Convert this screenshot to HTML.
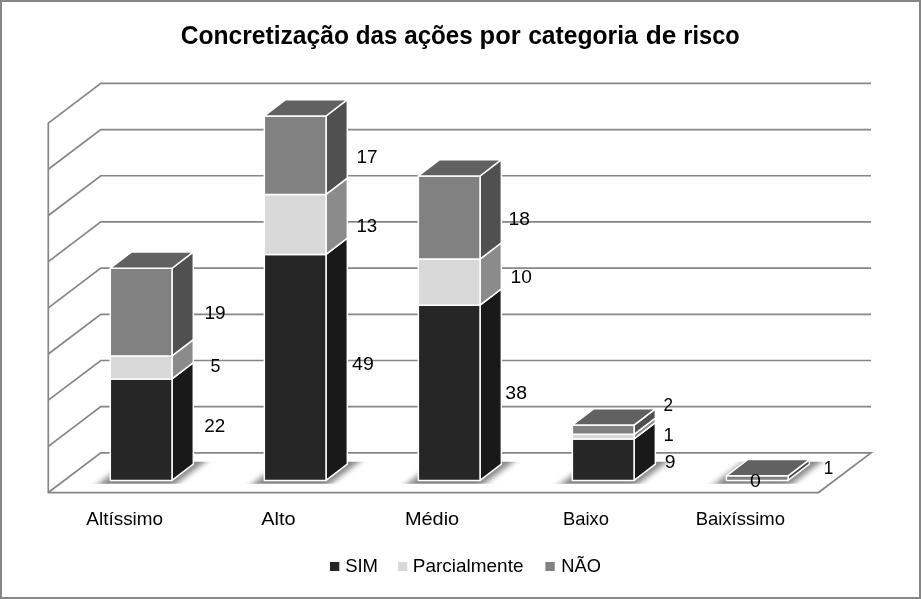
<!DOCTYPE html>
<html lang="pt">
<head>
<meta charset="utf-8">
<title>Concretização das ações por categoria de risco</title>
<style>
html,body{margin:0;padding:0;background:#fff;}
body{width:921px;height:599px;overflow:hidden;}
svg{display:block;}
text{font-family:"Liberation Sans",sans-serif;fill:#000;font-kerning:none;}
.t{font-weight:bold;font-size:25.4px;}
.l{font-size:17.8px;}
.d{font-size:18.3px;}
.g{stroke:#868686;stroke-width:1.7;fill:none;}
.b{stroke:#fff;stroke-width:1.5;stroke-linejoin:round;}
</style>
</head>
<body>
<svg width="921" height="599" viewBox="0 0 921 599">
<defs>
<filter id="sh" x="-30%" y="-60%" width="160%" height="220%"><feGaussianBlur stdDeviation="5 0.5"/></filter>
</defs>
<rect x="0" y="0" width="921" height="599" fill="#fff"/>
<rect x="1" y="1" width="919" height="597" fill="none" stroke="#868686" stroke-width="2"/>
<g class="g">
<polyline points="48.3,123.1 100.8,83.4 871,83.4"/>
<polyline points="48.3,169.28 100.8,129.58 871,129.58"/>
<polyline points="48.3,215.46 100.8,175.76 871,175.76"/>
<polyline points="48.3,261.64 100.8,221.94 871,221.94"/>
<polyline points="48.3,307.82 100.8,268.12 871,268.12"/>
<polyline points="48.3,354 100.8,314.3 871,314.3"/>
<polyline points="48.3,400.18 100.8,360.48 871,360.48"/>
<polyline points="48.3,446.36 100.8,406.66 871,406.66"/>
<polyline points="48.3,492.54 100.8,452.84 871,452.84 818.5,492.54 48.3,492.54"/>
<line x1="48.3" y1="122.7" x2="48.3" y2="493.14"/>
</g>
<g filter="url(#sh)" fill="#8a8a8a">
<polygon points="98.8,483.7 176.75,483.7 205.31,461.85 127.35,461.85"/>
<polygon points="252.82,483.7 330.77,483.7 359.33,461.85 281.37,461.85"/>
<polygon points="406.84,483.7 484.79,483.7 513.35,461.85 435.39,461.85"/>
<polygon points="560.86,483.7 638.81,483.7 667.37,461.85 589.41,461.85"/>
<polygon points="714.88,483.7 792.83,483.7 821.39,461.85 743.43,461.85"/>
</g>
<g class="b">
<polygon fill="#191919" points="172,378.96 193.3,362.66 193.3,464.15 172,480.45"/>
<rect fill="#262626" x="110.3" y="378.96" width="61.7" height="101.49"/>
<polygon fill="#8b8b8b" points="172,355.9 193.3,339.6 193.3,362.66 172,378.96"/>
<rect fill="#d9d9d9" x="110.3" y="355.9" width="61.7" height="23.06"/>
<polygon fill="#505050" points="172,268.25 193.3,251.95 193.3,339.6 172,355.9"/>
<rect fill="#818181" x="110.3" y="268.25" width="61.7" height="87.65"/>
<polygon fill="#616161" points="110.3,268.25 131.6,251.95 193.3,251.95 172,268.25"/>
</g>
<g class="b">
<polygon fill="#191919" points="326.02,254.41 347.32,238.11 347.32,464.15 326.02,480.45"/>
<rect fill="#262626" x="264.32" y="254.41" width="61.7" height="226.04"/>
<polygon fill="#8b8b8b" points="326.02,194.44 347.32,178.14 347.32,238.11 326.02,254.41"/>
<rect fill="#d9d9d9" x="264.32" y="194.44" width="61.7" height="59.97"/>
<polygon fill="#505050" points="326.02,116.02 347.32,99.72 347.32,178.14 326.02,194.44"/>
<rect fill="#818181" x="264.32" y="116.02" width="61.7" height="78.42"/>
<polygon fill="#616161" points="264.32,116.02 285.62,99.72 347.32,99.72 326.02,116.02"/>
</g>
<g class="b">
<polygon fill="#191919" points="480.04,305.16 501.34,288.86 501.34,464.15 480.04,480.45"/>
<rect fill="#262626" x="418.34" y="305.16" width="61.7" height="175.29"/>
<polygon fill="#8b8b8b" points="480.04,259.03 501.34,242.73 501.34,288.86 480.04,305.16"/>
<rect fill="#d9d9d9" x="418.34" y="259.03" width="61.7" height="46.13"/>
<polygon fill="#505050" points="480.04,175.99 501.34,159.69 501.34,242.73 480.04,259.03"/>
<rect fill="#818181" x="418.34" y="175.99" width="61.7" height="83.03"/>
<polygon fill="#616161" points="418.34,175.99 439.64,159.69 501.34,159.69 480.04,175.99"/>
</g>
<g class="b">
<polygon fill="#191919" points="634.06,438.93 655.36,422.63 655.36,464.15 634.06,480.45"/>
<rect fill="#262626" x="572.36" y="438.93" width="61.7" height="41.52"/>
<polygon fill="#8b8b8b" points="634.06,434.32 655.36,418.02 655.36,422.63 634.06,438.93"/>
<rect fill="#d9d9d9" x="572.36" y="434.32" width="61.7" height="4.61"/>
<polygon fill="#505050" points="634.06,425.09 655.36,408.79 655.36,418.02 634.06,434.32"/>
<rect fill="#818181" x="572.36" y="425.09" width="61.7" height="9.23"/>
<polygon fill="#616161" points="572.36,425.09 593.66,408.79 655.36,408.79 634.06,425.09"/>
</g>
<g class="b">
<polygon fill="#505050" points="788.08,475.84 809.38,459.54 809.38,464.15 788.08,480.45"/>
<rect fill="#818181" x="726.38" y="475.84" width="61.7" height="4.61"/>
<polygon fill="#616161" points="726.38,475.84 747.68,459.54 809.38,459.54 788.08,475.84"/>
</g>
<text class="t" y="43.5"><tspan x="180.69" textLength="168.27" lengthAdjust="spacingAndGlyphs">Concretização</tspan> <tspan x="355.81" textLength="41.68" lengthAdjust="spacingAndGlyphs">das</tspan> <tspan x="404.19" textLength="68.6" lengthAdjust="spacingAndGlyphs">ações</tspan> <tspan x="479.62" textLength="41.07" lengthAdjust="spacingAndGlyphs">por</tspan> <tspan x="528.14" textLength="109.61" lengthAdjust="spacingAndGlyphs">categoria</tspan> <tspan x="645.82" textLength="30.68" lengthAdjust="spacingAndGlyphs">de</tspan> <tspan x="683.35" textLength="56.27" lengthAdjust="spacingAndGlyphs">risco</tspan></text>
<text class="l" x="86.36" y="524.8" textLength="76.73" lengthAdjust="spacingAndGlyphs">Altíssimo</text>
<text class="l" x="261.32" y="524.8" textLength="34.35" lengthAdjust="spacingAndGlyphs">Alto</text>
<text class="l" x="404.9" y="524.8" textLength="54.3" lengthAdjust="spacingAndGlyphs">Médio</text>
<text class="l" x="562.99" y="524.8" textLength="45.98" lengthAdjust="spacingAndGlyphs">Baixo</text>
<text class="l" x="695.68" y="524.8" textLength="89.29" lengthAdjust="spacingAndGlyphs">Baixíssimo</text>
<text class="d" x="204.55" y="318.9" textLength="21.15" lengthAdjust="spacingAndGlyphs">19</text>
<text class="d" x="210.59" y="371.9" textLength="9.91" lengthAdjust="spacingAndGlyphs">5</text>
<text class="d" x="204.35" y="431.9" textLength="21" lengthAdjust="spacingAndGlyphs">22</text>
<text class="d" x="356.46" y="162.9" textLength="21.1" lengthAdjust="spacingAndGlyphs">17</text>
<text class="d" x="356.48" y="231.9" textLength="20.74" lengthAdjust="spacingAndGlyphs">13</text>
<text class="d" x="352.05" y="369.9" textLength="21.78" lengthAdjust="spacingAndGlyphs">49</text>
<text class="d" x="508.53" y="224.9" textLength="21.4" lengthAdjust="spacingAndGlyphs">18</text>
<text class="d" x="510.54" y="282.9" textLength="21.31" lengthAdjust="spacingAndGlyphs">10</text>
<text class="d" x="505.36" y="398.9" textLength="21.58" lengthAdjust="spacingAndGlyphs">38</text>
<text class="d" x="663.44" y="410.9" textLength="9.52" lengthAdjust="spacingAndGlyphs">2</text>
<text class="d" x="663.4" y="440.9" textLength="10.25" lengthAdjust="spacingAndGlyphs">1</text>
<text class="d" x="664.89" y="467.9" textLength="10.79" lengthAdjust="spacingAndGlyphs">9</text>
<text class="d" x="750.04" y="486.9" textLength="10.82" lengthAdjust="spacingAndGlyphs">0</text>
<text class="d" x="823.69" y="473.9" textLength="9.55" lengthAdjust="spacingAndGlyphs">1</text>
<rect x="330" y="562" width="9.3" height="9" fill="#262626"/>
<text class="l" x="345.16" y="571.5" textLength="32.86" lengthAdjust="spacingAndGlyphs">SIM</text>
<rect x="398" y="562" width="9.3" height="9" fill="#d9d9d9"/>
<text class="l" x="412.85" y="571.5" textLength="110.6" lengthAdjust="spacingAndGlyphs">Parcialmente</text>
<rect x="545.4" y="562" width="9.3" height="9" fill="#818181"/>
<text class="l" x="561.3" y="571.5" textLength="39.57" lengthAdjust="spacingAndGlyphs">NÃO</text>
</svg>
</body>
</html>
